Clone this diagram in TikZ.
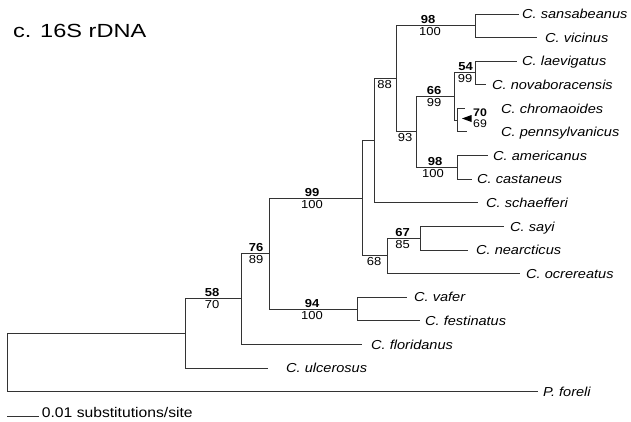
\documentclass[tikz,border=0pt]{standalone}
\usepackage{fontspec}
\setmainfont{Liberation Sans}[FakeStretch=1.12]
\newfontfamily\titlefont{Liberation Sans}[FakeStretch=1.24]
\begin{document}
\begin{tikzpicture}[x=1pt,y=-1pt,
  br/.style={draw=black!80, line width=1.2pt},
  tip/.style={anchor=base west, yshift=-4.7pt, inner sep=0pt, font=\fontsize{13}{15}\selectfont\itshape},
  bs/.style={anchor=base, yshift=2.5pt, inner sep=0pt, font=\fontsize{11.6}{13}\selectfont\bfseries},
  bl/.style={anchor=base, yshift=-9.8pt, inner sep=0pt, font=\fontsize{11.6}{13}\selectfont},
  nb/.style={anchor=base, inner sep=0pt, font=\fontsize{11}{12}\selectfont}]
\useasboundingbox (0,0) rectangle (631,421);

% internal nodes
\coordinate (r) at (7.5,362.5);
\coordinate (n1) at (185.5,333.5);
\coordinate (n58) at (241.5,298.5);
\coordinate (n76) at (269.5,253.5);
\coordinate (n99) at (362.5,198.5);
\coordinate (nA) at (374.5,140.5);
\coordinate (n88) at (396.5,78.5);
\coordinate (n98a) at (475.5,25.5);
\coordinate (n93) at (416.5,131.5);
\coordinate (n66) at (454.5,96.5);
\coordinate (n54) at (475.5,72.5);
\coordinate (n70) at (457.5,120.5);
\coordinate (n98b) at (457.5,167.5);
\coordinate (n68) at (387.5,255.5);
\coordinate (n67) at (420.5,238.5);
\coordinate (n94) at (357.5,309.5);

% tips
\coordinate (t1) at (519,14.5);
\coordinate (t2) at (537,37.5);
\coordinate (t3) at (517,61.5);
\coordinate (t4) at (486,84.5);
\coordinate (t5) at (465,108.5);
\coordinate (t6) at (467,131.5);
\coordinate (t7) at (488,155.5);
\coordinate (t8) at (472,179.5);
\coordinate (t9) at (478,202.5);
\coordinate (t10) at (504,226.5);
\coordinate (t11) at (468,250.5);
\coordinate (t12) at (520,273.5);
\coordinate (t13) at (407,297.5);
\coordinate (t14) at (420,320.5);
\coordinate (t15) at (362,344.5);
\coordinate (t16) at (268,368.5);
\coordinate (t17) at (538,391.5);

% branches
\foreach \p/\c in {r/n1, r/t17, n1/n58, n1/t16, n58/n76, n58/t15, n76/n99, n76/n94,
  n99/nA, n99/n68, nA/n88, nA/t9, n88/n98a, n88/n93, n98a/t1, n98a/t2,
  n93/n66, n93/n98b, n66/n54, n66/n70, n54/t3, n54/t4, n70/t5, n70/t6,
  n98b/t7, n98b/t8, n68/n67, n68/t12, n67/t10, n67/t11, n94/t13, n94/t14}
  \draw[br] (\p) |- (\c);

% tip labels
\node[tip] (L1) at (522,14) {C. sansabeanus};
\node[tip] (L2) at (545,37.6) {C. vicinus};
\node[tip] (L3) at (522,61.2) {C. laevigatus};
\node[tip] (L4) at (492,84.8) {C. novaboracensis};
\node[tip] (L5) at (501,108.4) {C. chromaoides};
\node[tip] (L6) at (501,132) {C. pennsylvanicus};
\node[tip] (L7) at (493,155.6) {C. americanus};
\node[tip] (L8) at (477,179.2) {C. castaneus};
\node[tip] (L9) at (486,202.8) {C. schaefferi};
\node[tip] (L10) at (510,226.4) {C. sayi};
\node[tip] (L11) at (476,250) {C. nearcticus};
\node[tip] (L12) at (526,273.6) {C. ocrereatus};
\node[tip] (L13) at (414,297.2) {C. vafer};
\node[tip] (L14) at (425,320.8) {C. festinatus};
\node[tip] (L15) at (371,344.4) {C. floridanus};
\node[tip] (L16) at (286,368) {C. ulcerosus};
\node[tip] (L17) at (543,391.6) {P. foreli};

% support values
\node[bs] (s98a) at (428,25.5) {98};
\node[bl] (p98a) at (430,25.5) {100};
\node[bs] (s54) at (465.5,72.5) {54};
\node[bl] (p54) at (465,72.5) {99};
\node[bs] (s66) at (434,96.5) {66};
\node[bl] (p66) at (434,96.5) {99};
\node[nb,font=\fontsize{11}{12}\selectfont\bfseries] (s70) at (480,116.3) {70};
\node[nb] (p70) at (480,127.6) {69};
\fill[black] (462,118.5) -- (471.5,115) -- (471.5,122) -- cycle;
\node[bl] (p93) at (405,131.5) {93};
\node[bl] (p88) at (384.5,78.5) {88};
\node[bs] (s98b) at (435,167.5) {98};
\node[bl] (p98b) at (433,167.5) {100};
\node[bs] (s67) at (402.5,238.5) {67};
\node[bl] (p67) at (402.5,238.5) {85};
\node[bl] (p68) at (374,255.5) {68};
\node[bs] (s99) at (312,198.5) {99};
\node[bl] (p99) at (312,198.5) {100};
\node[bs] (s76) at (256,253.5) {76};
\node[bl] (p76) at (256,253.5) {89};
\node[bs] (s94) at (312,309.5) {94};
\node[bl] (p94) at (312,309.5) {100};
\node[bs] (s58) at (212,298.5) {58};
\node[bl] (p58) at (212,298.5) {70};

% title
\node[anchor=base west, inner sep=0pt, font=\titlefont\fontsize{19}{22}\selectfont] (title) at (13,37.3) {c. 16S rDNA};

% scale bar
\coordinate (sbL) at (7.3,416.5);
\coordinate (sbR) at (39.3,416.5);
\draw[br] (sbL) -- (sbR);
\node[anchor=base west, inner sep=0pt, font=\fontsize{14}{16}\selectfont] (sbT) at (41.7,417.3) {0.01 substitutions/site};
\end{tikzpicture}
\end{document}
